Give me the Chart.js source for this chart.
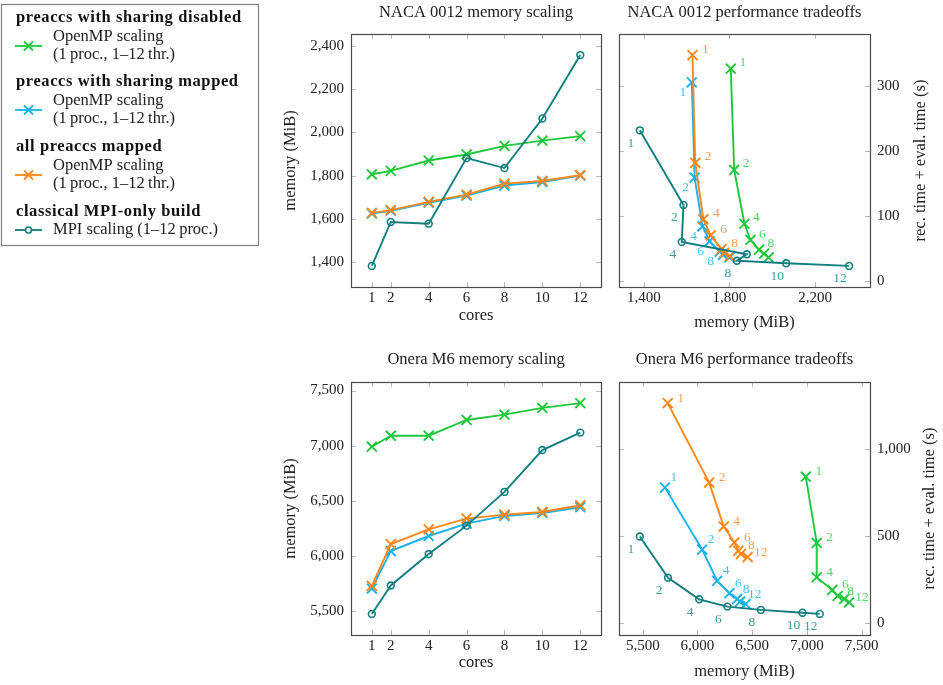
<!DOCTYPE html>
<html>
<head>
<meta charset="utf-8">
<script src="https://cdn.jsdelivr.net/npm/chart.js@4.4.1/dist/chart.umd.min.js"></script>
<style>
  body { margin: 0; background: #fff; width: 943px; height: 685px; position: relative; overflow: hidden; }
  canvas { position: absolute; }
</style>
</head>
<body>
<canvas id="legend" width="262" height="250" style="left:0;top:0"></canvas>
<canvas id="nacaMem" width="340" height="340" style="left:270px;top:0"></canvas>
<canvas id="nacaTrade" width="333" height="340" style="left:610px;top:0"></canvas>
<canvas id="oneraMem" width="340" height="345" style="left:270px;top:340px"></canvas>
<canvas id="oneraTrade" width="333" height="345" style="left:610px;top:340px"></canvas>
<script>
// ---- data ----
const CORES = [1, 2, 4, 6, 8, 10, 12];

// NACA 0012: memory (MiB) per core count
const NACA_MEM_DISABLED = [1806, 1822, 1870, 1898, 1938, 1962, 1983];
const NACA_MEM_SHARED = [1624, 1637, 1674, 1707, 1754, 1770, 1800];
const NACA_MEM_ALL = [1627, 1640, 1678, 1712, 1763, 1775, 1802];
const NACA_MEM_MPI = [1381, 1585, 1577, 1881, 1835, 2065, 2359];
// NACA 0012: rec. time + eval. time (s)
const NACA_TIME_DISABLED = [327, 171, 88, 63, 48, 42, 36];
const NACA_TIME_SHARED = [306, 159, 84, 61, 45, 40, 36];
const NACA_TIME_ALL = [348, 182, 95, 70, 49, 43, 38];
const NACA_TIME_MPI = [232, 117, 60, 41, 31, 27, 23];

// Onera M6
const ONERA_MEM_DISABLED = [6990, 7090, 7090, 7233, 7281, 7342, 7386];
const ONERA_MEM_SHARED = [5703, 6043, 6180, 6292, 6362, 6389, 6441];
const ONERA_MEM_ALL = [5728, 6107, 6240, 6338, 6374, 6398, 6459];
const ONERA_MEM_MPI = [5473, 5731, 6016, 6274, 6580, 6960, 7118];
const ONERA_TIME_DISABLED = [841, 460, 262, 190, 155, 138, 119];
const ONERA_TIME_SHARED = [778, 422, 242, 171, 137, 122, 109];
const ONERA_TIME_ALL = [1264, 807, 554, 463, 415, 397, 379];
const ONERA_TIME_MPI = [497, 260, 136, 94, 75, 59, 52];

// tick labels
const CORE_TICKS = [1, 2, 4, 6, 8, 10, 12];
const NACA_MEM_TICKS = [1400, 1600, 1800, 2000, 2200, 2400];
const NACA_TRADE_X_TICKS = [1400, 1800, 2200];
const NACA_TRADE_Y_TICKS = [0, 100, 200, 300];
const ONERA_MEM_TICKS = [5500, 6000, 6500, 7000, 7500];
const ONERA_TRADE_Y_TICKS = [0, 500, 1000];

// which core counts get a text label in the tradeoff plots
const NACA_SHOWN = {
    disabled: [1, 2, 4, 6, 8],
    shared: [1, 2, 4, 6, 8],
    all: [1, 2, 4, 6, 8],
    mpi: [1, 2, 4, 8, 10, 12],
};
const ONERA_SHOWN = {
    disabled: [1, 2, 4, 6, 8, 12],
    shared: [1, 2, 4, 6, 8, 12],
    all: [1, 2, 4, 6, 8, 12],
    mpi: [1, 2, 4, 6, 8, 10, 12],
};

// ---- styles ----
const GREEN = '#1ec83c', CYAN = '#17b3ea', ORANGE = '#ff8618', TEAL = '#107e7e';
const GREEN_L = '#4fd766', CYAN_L = '#44c3f0', ORANGE_L = '#ffa04c', TEAL_L = '#3d9b9b';
const SERIF = "'Liberation Serif', 'Times New Roman', serif";
const TICK_LEN = 5;

// draw order: first entry ends up on top in Chart.js
const STYLE = {
    mpi: { color: TEAL, light: TEAL_L, marker: 'circle' },
    all: { color: ORANGE, light: ORANGE_L, marker: 'crossRot' },
    shared: { color: CYAN, light: CYAN_L, marker: 'crossRot' },
    disabled: { color: GREEN, light: GREEN_L, marker: 'crossRot' },
};
const ORDER = ['mpi', 'all', 'shared', 'disabled'];

// pgfplots style 10% enlargement of the data range
function enlarged(arrays) {
    const all = arrays.flat();
    const lo = Math.min(...all), hi = Math.max(...all);
    const pad = (hi - lo) * 0.1;
    return { min: lo - pad, max: hi + pad };
}

const fmt = (v) => Number(v).toLocaleString('en-US');

const framePlugin = {
    id: 'frame',
    beforeDatasetsDraw(chart) {
        const { ctx, chartArea: a, scales } = chart;
        ctx.save();
        ctx.strokeStyle = '#b8b8b8';
        ctx.lineWidth = 1;
        ctx.beginPath();
        scales.x.ticks.forEach((t) => {
            const px = Math.round(scales.x.getPixelForValue(t.value)) + 0.5;
            ctx.moveTo(px, a.bottom); ctx.lineTo(px, a.bottom - TICK_LEN);
            ctx.moveTo(px, a.top); ctx.lineTo(px, a.top + TICK_LEN);
        });
        scales.y.ticks.forEach((t) => {
            const py = Math.round(scales.y.getPixelForValue(t.value)) + 0.5;
            ctx.moveTo(a.left, py); ctx.lineTo(a.left + TICK_LEN, py);
            ctx.moveTo(a.right, py); ctx.lineTo(a.right - TICK_LEN, py);
        });
        ctx.stroke();
        ctx.restore();
    },
    afterDatasetsDraw(chart) {
        const { ctx, chartArea: a } = chart;
        ctx.save();
        ctx.font = `13.5px ${SERIF}`;
        ctx.textAlign = 'center';
        ctx.textBaseline = 'middle';
        chart.data.datasets.forEach((ds, di) => {
            if (!ds.pointLabels) return;
            const meta = chart.getDatasetMeta(di);
            ctx.fillStyle = ds.labelColor;
            meta.data.forEach((el, i) => {
                const t = ds.pointLabels[i];
                if (t) ctx.fillText(t, el.x + ds.labelDx, el.y + ds.labelDy);
            });
        });
        ctx.strokeStyle = '#4a4a4a';
        ctx.lineWidth = 1.2;
        ctx.strokeRect(Math.round(a.left) + 0.5, Math.round(a.top) + 0.5, Math.round(a.width), Math.round(a.height));
        ctx.restore();
    },
    afterDraw(chart, args, opts) {
        const { ctx, chartArea: a } = chart;
        const cx = (a.left + a.right) / 2, cy = (a.top + a.bottom) / 2;
        ctx.save();
        ctx.fillStyle = '#222';
        ctx.textAlign = 'center';
        ctx.textBaseline = 'middle';
        ctx.font = `16.5px ${SERIF}`;
        ctx.fillText(opts.title, cx, opts.titleY);
        ctx.fillText(opts.xTitle, cx, opts.xTitleY);
        ctx.translate(opts.yTitleX, cy);
        ctx.rotate(-Math.PI / 2);
        ctx.fillText(opts.yTitle, 0, 0);
        ctx.restore();
    },
};

function makeDatasets(xs, ys, shown, offsets) {
    return ORDER.map((key) => {
        const st = STYLE[key];
        const isCircle = st.marker === 'circle';
        const ds = {
            data: xs[key].map((x, i) => ({ x, y: ys[key][i] })),
            showLine: true,
            borderColor: st.color,
            backgroundColor: st.color,
            borderWidth: 1.9,
            pointStyle: st.marker,
            pointRadius: isCircle ? 3.4 : 7,
            pointBorderWidth: isCircle ? 1.6 : 1.9,
            pointBackgroundColor: isCircle ? 'rgba(255,255,255,0)' : st.color,
            pointBorderColor: st.color,
            tension: 0,
        };
        if (shown) {
            ds.pointLabels = CORES.map((c) => (shown[key].includes(c) ? String(c) : ''));
            ds.labelColor = st.light;
            ds.labelDx = offsets[key][0];
            ds.labelDy = offsets[key][1];
        }
        return ds;
    });
}

function makePanel(id, p) {
    const canvas = document.getElementById(id);
    const W = canvas.width, H = canvas.height;
    const a = p.area;
    const yRight = p.yPosition === 'right';
    return new Chart(canvas, {
        type: 'scatter',
        data: { datasets: p.datasets },
        options: {
            responsive: false,
            animation: false,
            layout: {
                padding: {
                    top: a.top,
                    left: yRight ? a.left : 0,
                    right: yRight ? 0 : W - a.right,
                    bottom: 0,
                },
            },
            plugins: {
                legend: { display: false },
                tooltip: { enabled: false },
                frame: p.texts,
            },
            scales: {
                x: {
                    type: 'linear',
                    position: 'bottom',
                    bounds: 'data',
                    min: p.xRange.min,
                    max: p.xRange.max,
                    grid: { display: false, drawTicks: false },
                    border: { display: false },
                    ticks: {
                        font: { family: SERIF, size: 15 },
                        color: '#222',
                        padding: 2,
                        autoSkip: false,
                        maxRotation: 0,
                        callback: (v) => fmt(v),
                    },
                    afterBuildTicks: (s) => { s.ticks = p.xTicks.map((v) => ({ value: v })); },
                    afterFit: (s) => { s.height = H - a.bottom; },
                },
                y: {
                    type: 'linear',
                    position: p.yPosition,
                    bounds: 'data',
                    min: p.yRange.min,
                    max: p.yRange.max,
                    grid: { display: false, drawTicks: false },
                    border: { display: false },
                    ticks: {
                        font: { family: SERIF, size: 15 },
                        color: '#222',
                        padding: 7,
                        autoSkip: false,
                        callback: (v) => fmt(v),
                    },
                    afterBuildTicks: (s) => { s.ticks = p.yTicks.map((v) => ({ value: v })); },
                    afterFit: (s) => { s.width = yRight ? W - a.right : a.left; },
                },
            },
        },
        plugins: [framePlugin],
    });
}

const coreSeries = { mpi: CORES, all: CORES, shared: CORES, disabled: CORES };
const nacaMem = { mpi: NACA_MEM_MPI, all: NACA_MEM_ALL, shared: NACA_MEM_SHARED, disabled: NACA_MEM_DISABLED };
const nacaTime = { mpi: NACA_TIME_MPI, all: NACA_TIME_ALL, shared: NACA_TIME_SHARED, disabled: NACA_TIME_DISABLED };
const oneraMem = { mpi: ONERA_MEM_MPI, all: ONERA_MEM_ALL, shared: ONERA_MEM_SHARED, disabled: ONERA_MEM_DISABLED };
const oneraTime = { mpi: ONERA_TIME_MPI, all: ONERA_TIME_ALL, shared: ONERA_TIME_SHARED, disabled: ONERA_TIME_DISABLED };

const coreRange = enlarged([CORES]);
const nacaMemRange = enlarged(Object.values(nacaMem));
const oneraMemRange = enlarged(Object.values(oneraMem));

makePanel('nacaMem', {
    area: { left: 81, top: 34, right: 332, bottom: 287 },
    yPosition: 'left',
    datasets: makeDatasets(coreSeries, nacaMem),
    xRange: coreRange, yRange: nacaMemRange,
    xTicks: CORE_TICKS, yTicks: NACA_MEM_TICKS,
    texts: { title: 'NACA 0012 memory scaling', titleY: 13, xTitle: 'cores', xTitleY: 316, yTitle: 'memory (MiB)', yTitleX: 21 },
});

makePanel('nacaTrade', {
    area: { left: 8, top: 34, right: 260, bottom: 287 },
    yPosition: 'right',
    datasets: makeDatasets(nacaMem, nacaTime, NACA_SHOWN, {
        all: [13, -6], shared: [-9, 10], disabled: [12, -6], mpi: [-9, 13],
    }),
    xRange: nacaMemRange, yRange: enlarged(Object.values(nacaTime)),
    xTicks: NACA_TRADE_X_TICKS, yTicks: NACA_TRADE_Y_TICKS,
    texts: { title: 'NACA 0012 performance tradeoffs', titleY: 13, xTitle: 'memory (MiB)', xTitleY: 323, yTitle: 'rec. time + eval. time (s)', yTitleX: 311 },
});

makePanel('oneraMem', {
    area: { left: 81, top: 42, right: 332, bottom: 295 },
    yPosition: 'left',
    datasets: makeDatasets(coreSeries, oneraMem),
    xRange: coreRange, yRange: oneraMemRange,
    xTicks: CORE_TICKS, yTicks: ONERA_MEM_TICKS,
    texts: { title: 'Onera M6 memory scaling', titleY: 20, xTitle: 'cores', xTitleY: 323, yTitle: 'memory (MiB)', yTitleX: 21 },
});

makePanel('oneraTrade', {
    area: { left: 8, top: 42, right: 260, bottom: 295 },
    yPosition: 'right',
    datasets: makeDatasets(oneraMem, oneraTime, ONERA_SHOWN, {
        all: [13, -5], shared: [9, -10], disabled: [13, -5], mpi: [-9, 13],
    }),
    xRange: oneraMemRange, yRange: enlarged(Object.values(oneraTime)),
    xTicks: ONERA_MEM_TICKS, yTicks: ONERA_TRADE_Y_TICKS,
    texts: { title: 'Onera M6 performance tradeoffs', titleY: 20, xTitle: 'memory (MiB)', xTitleY: 332, yTitle: 'rec. time + eval. time (s)', yTitleX: 320 },
});

// ---- legend box ----
function drawLegend() {
    const ctx = document.getElementById('legend').getContext('2d');
    ctx.strokeStyle = '#808080';
    ctx.lineWidth = 1.2;
    ctx.strokeRect(1.5, 4.5, 257, 241);

    const entries = [
        { head: 'preaccs with sharing disabled', key: 'disabled', lines: ['OpenMP scaling', '(1\u2009proc., 1\u201312\u2009thr.)'], y: 18 },
        { head: 'preaccs with sharing mapped', key: 'shared', lines: ['OpenMP scaling', '(1\u2009proc., 1\u201312\u2009thr.)'], y: 82 },
        { head: 'all preaccs mapped', key: 'all', lines: ['OpenMP scaling', '(1\u2009proc., 1\u201312\u2009thr.)'], y: 147 },
        { head: 'classical MPI-only build', key: 'mpi', lines: ['MPI scaling (1\u201312\u2009proc.)'], y: 212 },
    ];
    ctx.textBaseline = 'middle';
    ctx.textAlign = 'left';
    entries.forEach((e) => {
        const st = STYLE[e.key];
        ctx.fillStyle = '#111';
        ctx.font = `bold 16.5px ${SERIF}`;
        ctx.letterSpacing = '0.6px';
        ctx.fillText(e.head, 16, e.y);
        ctx.letterSpacing = '0px';
        ctx.font = `16.5px ${SERIF}`;
        ctx.fillStyle = '#222';
        let markY;
        if (e.lines.length === 2) {
            ctx.fillText(e.lines[0], 53, e.y + 19);
            ctx.fillText(e.lines[1], 53, e.y + 37);
            markY = e.y + 28;
        } else {
            ctx.fillText(e.lines[0], 53, e.y + 18);
            markY = e.y + 18;
        }
        ctx.strokeStyle = st.color;
        ctx.lineWidth = 1.8;
        ctx.beginPath();
        ctx.moveTo(15, markY); ctx.lineTo(42, markY);
        ctx.stroke();
        ctx.beginPath();
        if (st.marker === 'circle') {
            ctx.arc(28.5, markY, 3, 0, Math.PI * 2);
            ctx.fillStyle = '#fff';
            ctx.fill();
            ctx.lineWidth = 1.6;
            ctx.stroke();
        } else {
            const r = 4.5;
            ctx.moveTo(28.5 - r, markY - r); ctx.lineTo(28.5 + r, markY + r);
            ctx.moveTo(28.5 - r, markY + r); ctx.lineTo(28.5 + r, markY - r);
            ctx.stroke();
        }
    });
}
drawLegend();
</script>
</body>
</html>
